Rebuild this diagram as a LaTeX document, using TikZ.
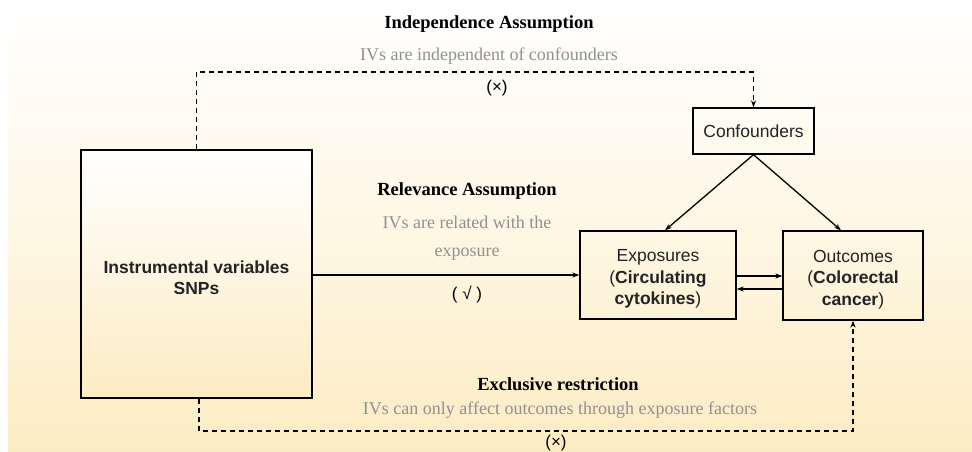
\documentclass[tikz,border=0pt]{standalone}
\usepackage{fontspec}
\setmainfont{Liberation Serif}
\newfontfamily\sansf{Liberation Sans}
\usetikzlibrary{arrows.meta}
\definecolor{bgbot}{RGB}{252,236,195}
\definecolor{bgmid}{RGB}{254,247,229}
\definecolor{greytxt}{RGB}{145,145,145}
\definecolor{boxtxt}{RGB}{35,35,35}
\tikzset{
  boxn/.style={draw=black, line width=1.3pt, align=center, inner sep=0pt,
    font=\sansf\fontsize{17.5}{21.5}\selectfont, text=boxtxt},
  arr/.style={line width=1.3pt, -{Stealth[length=7pt,width=5pt]}},
  dsh/.style={line width=1.3pt, dash pattern=on 5pt off 4pt, -{Stealth[length=7pt,width=5pt]}},
  ttl/.style={font=\bfseries\fontsize{18.5}{22}\selectfont, text=black},
  gtx/.style={font=\fontsize{18}{22}\selectfont, text=greytxt},
  signlbl/.style={font=\sansf\fontsize{17}{20}\selectfont, text=black}
}
\begin{document}
\begin{tikzpicture}[x=1pt,y=-1pt]
\useasboundingbox (0,0) rectangle (972,452);
\fill[white] (0,0) rectangle (972,452);
\shade[top color=white, bottom color=bgbot, middle color=bgmid] (8,0) rectangle (972,452);
\shade[top color=white, bottom color=bgbot] (81,150) rectangle (312,398);
% nodes
\node[boxn, minimum width=231pt, minimum height=248pt] (iv) at (196.5,274)
  {\rule{0pt}{20pt}\bfseries Instrumental variables\\\bfseries SNPs};
\node[boxn, minimum width=121pt, minimum height=46pt] (conf) at (753.5,131) {Confounders};
\node[boxn, minimum width=156pt, minimum height=88pt] (expo) at (658,275)
  {\rule{0pt}{20pt}Exposures\\(\textbf{Circulating}\\\textbf{cytokines})};
\node[boxn, minimum width=140pt, minimum height=89pt] (outc) at (853,275.5)
  {\rule{0pt}{20pt}Outcomes\\(\textbf{Colorectal}\\\textbf{cancer})};
% labels
\node[ttl] (t1) at (489,24) {Independence Assumption};
\node[gtx] (g1) at (489,56) {IVs are independent of confounders};
\node[signlbl] (m1) at (497,88) {(×)};
\node[ttl] (t2) at (467,191) {Relevance Assumption};
\node[gtx] (g2) at (467,222) {IVs are related with the};
\node[gtx] (g3) at (467,254) {exposure};
\node[signlbl] (m2) at (467,295) {( √ )};
\node[ttl] (t3) at (558,384) {Exclusive restriction};
\node[gtx] (g4) at (560,410) {IVs can only affect outcomes through exposure factors};
\node[signlbl] (m3) at (556,443.5) {(×)};
% helper coordinates
\coordinate (topy) at (0,72);
\coordinate (boty) at (0,431);
\coordinate (a1) at (0,276);
\coordinate (a2) at (0,289);
\coordinate (rl) at (0,275);
% connectors
\draw[dsh] (iv.north) |- (conf.north |- topy) -- (conf.north);
\draw[dsh] ([xshift=2.5pt]iv.south) |- (outc.south |- boty) -- (outc.south);
\draw[arr] (iv.east |- rl) -- (expo.west |- rl);
\draw[arr] (expo.east |- a1) -- (outc.west |- a1);
\draw[arr] (outc.west |- a2) -- (expo.east |- a2);
\draw[arr] (conf.south) -- ([xshift=7pt]expo.north);
\draw[arr] (conf.south) -- ([xshift=-12pt]outc.north);
\end{tikzpicture}
\end{document}
